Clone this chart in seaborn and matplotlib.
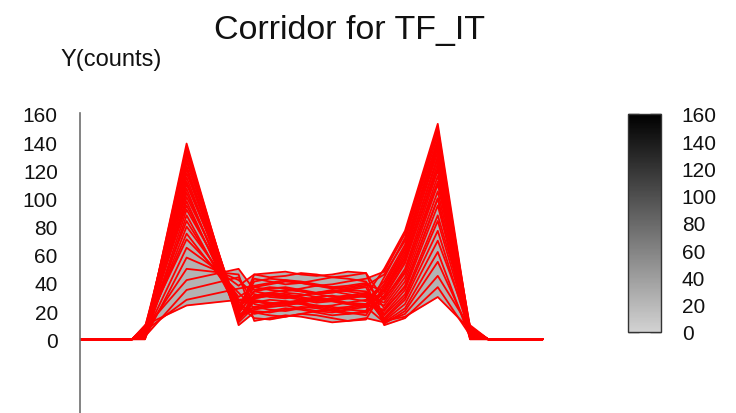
import numpy as np
import pandas as pd
import matplotlib
matplotlib.use("Agg")
import matplotlib.pyplot as plt
from matplotlib.colors import LinearSegmentedColormap, Normalize
from matplotlib.cm import ScalarMappable
import seaborn as sns

# Sample times (ms) shared by every recorded curve
times = [0, 10, 12.5, 20.5, 30.5, 33.5, 36.5, 39.5, 42.5, 45.5, 48.5, 51.5, 55,
         58.5, 62.5, 68.8, 75, 78.5, 89]

# Counts per curve at each sample time (30 curves)
n_curves = 30
start = [0] * n_curves
onset = [0] * n_curves
rise = [2, 4, 1, 6, 3, 8, 5, 0, 7, 2, 9, 4, 1, 6, 3, 5, 8, 2, 0, 7, 4, 6, 9, 3, 1, 5, 8, 2, 6, 10]
peak_1 = [139, 136, 133, 131, 128, 126, 123, 121, 118, 115, 112, 110, 107, 104, 101,
          98, 95, 92, 88, 84, 80, 75, 71, 65, 58, 50, 42, 35, 28, 24]
dip = [12, 15, 10, 18, 14, 20, 16, 13, 22, 17, 19, 24, 15, 21, 26, 18, 23, 28, 20, 25,
       30, 27, 33, 38, 42, 46, 50, 44, 36, 28]
mid_1 = [23, 29, 19, 34, 27, 41, 21, 27, 34, 23, 46, 15, 31, 37, 26, 20, 43, 28, 31, 18,
         37, 30, 22, 46, 32, 13, 35, 25, 38, 29]
mid_2 = [21, 31, 17, 36, 25, 43, 23, 25, 32, 25, 44, 14, 33, 39, 28, 19, 41, 26, 33, 20,
         35, 32, 24, 47, 30, 15, 37, 23, 40, 31]
mid_3 = [20, 33, 16, 37, 24, 42, 24, 26, 30, 27, 45, 16, 32, 41, 27, 21, 39, 25, 35, 22,
         34, 31, 26, 48, 29, 17, 36, 24, 42, 30]
mid_4 = [22, 32, 18, 35, 26, 40, 22, 28, 31, 26, 47, 18, 30, 40, 25, 23, 40, 27, 34, 21,
         36, 29, 25, 46, 31, 16, 34, 26, 41, 28]
mid_5 = [24, 30, 20, 33, 28, 38, 20, 30, 33, 24, 46, 17, 28, 38, 23, 22, 42, 29, 32, 19,
         38, 27, 23, 45, 33, 14, 32, 28, 39, 26]
mid_6 = [23, 28, 21, 34, 27, 39, 19, 31, 35, 22, 44, 15, 29, 36, 24, 20, 44, 28, 30, 17,
         37, 28, 21, 46, 34, 12, 33, 27, 37, 27]
mid_7 = [21, 29, 19, 36, 25, 41, 21, 29, 34, 23, 45, 13, 31, 37, 26, 18, 43, 26, 31, 18,
         35, 30, 22, 48, 32, 13, 35, 25, 38, 29]
mid_8 = [20, 31, 17, 38, 24, 43, 23, 27, 32, 25, 47, 14, 30, 39, 28, 19, 41, 25, 33, 20,
         34, 32, 24, 47, 30, 15, 37, 23, 40, 31]
pre_rise = [44, 50, 38, 46, 35, 48, 33, 41, 30, 39, 28, 36, 26, 34, 24, 31, 22, 20, 18, 29,
            17, 15, 21, 14, 13, 12, 11, 12, 10, 13]
shoulder = [72, 77, 64, 70, 60, 75, 57, 67, 54, 65, 50, 62, 47, 58, 44, 55, 41, 38, 35, 48,
            32, 30, 37, 28, 25, 22, 20, 18, 15, 16]
peak_2 = [148, 153, 140, 145, 136, 150, 130, 142, 125, 138, 120, 133, 116, 128, 110, 122,
          105, 100, 95, 112, 88, 84, 100, 77, 70, 62, 55, 45, 37, 30]
fall = [3, 6, 1, 8, 4, 0, 7, 2, 5, 9, 3, 6, 1, 4, 8, 2, 5, 0, 7, 3, 10, 6, 2, 4, 9, 1, 5, 8, 3, 7]
settle = [0] * n_curves
end = [0] * n_curves

stations = [start, onset, rise, peak_1, dip, mid_1, mid_2, mid_3, mid_4, mid_5, mid_6,
            mid_7, mid_8, pre_rise, shoulder, peak_2, fall, settle, end]

# Scale of the shaded colour bar and the count axis
cbar_ticks = [0, 20, 40, 60, 80, 100, 120, 140, 160]
y_ticks = [0, 20, 40, 60, 80, 100, 120, 140, 160]

# Long-form table: one row per (curve, time)
rows = []
for t, vals in zip(times, stations):
    for c, v in enumerate(vals):
        rows.append({"curve": c, "t": t, "counts": v})
df = pd.DataFrame(rows)

sns.set_style("white")
plt.rcParams["font.family"] = ["Liberation Sans", "DejaVu Sans"]

fig = plt.figure(figsize=(7.36, 4.14), dpi=100)
ax = fig.add_axes([80 / 736, 0, 520 / 736, 300 / 414])

# Corridor envelope (min/max over all curves) shaded in grey
grid = np.linspace(times[0], times[-1], 3000)
curves = np.array([np.interp(grid, times, [s[c] for s in stations]) for c in range(n_curves)])
ax.fill_between(grid, curves.min(axis=0), curves.max(axis=0), color="#b3b3b3", lw=0, zorder=1)

sns.lineplot(data=df, x="t", y="counts", units="curve", estimator=None,
             color="#ff0000", linewidth=1.3, legend=False, ax=ax, zorder=2)

ax.set_xlim(0, 100)
ax.set_ylim(-52.4, 160.7)
ax.set_xticks([])
ax.set_yticks(y_ticks)
ax.set_xlabel("")
ax.set_ylabel("")
for side in ["top", "right", "bottom"]:
    ax.spines[side].set_visible(False)
ax.spines["left"].set_color("#6e6e6e")
ax.spines["left"].set_linewidth(1.2)
ax.tick_params(axis="y", direction="in", length=7.5, width=1.2, color="#6e6e6e",
               labelsize=15, pad=16, labelcolor="#111111")

fig.text(349 / 736, 1 - 30 / 414, "Corridor for TF_IT", ha="center", va="center",
         fontsize=24.5, color="#111111")
fig.text(111 / 736, 1 - 60 / 414, "Y(counts)", ha="center", va="center",
         fontsize=17, color="#111111")

# Grey-scale colour bar
cmap = LinearSegmentedColormap.from_list("greys_light", ["#d2d2d2", "#000000"])
sm = ScalarMappable(norm=Normalize(0, 160), cmap=cmap)
cax = fig.add_axes([628 / 736, 1 - 333 / 414, 33 / 736, 218 / 414])
cb = fig.colorbar(sm, cax=cax)
cb.set_ticks(cbar_ticks)
cb.outline.set_edgecolor("#333333")
cb.outline.set_linewidth(1.0)
cax.tick_params(direction="in", left=True, right=True, length=8, width=1.0,
                color="#222222", labelsize=15, pad=15, labelcolor="#111111")

fig.savefig("out.png", dpi=100)
